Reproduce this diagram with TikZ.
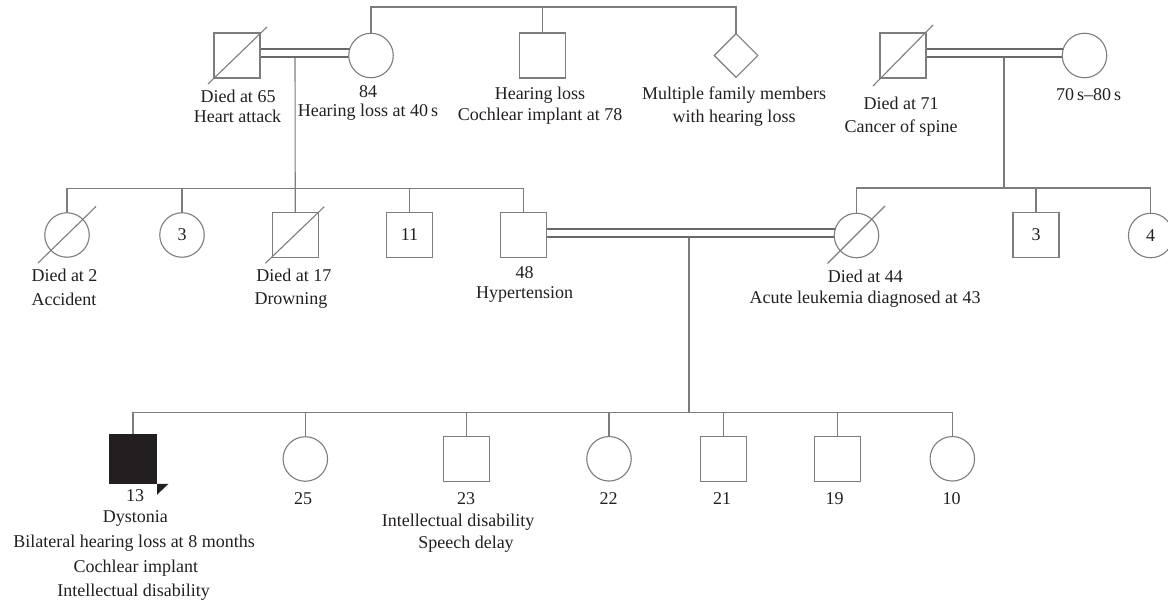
\documentclass[tikz,border=0pt]{standalone}
\usepackage{fontspec}
\setmainfont{Liberation Serif}
\usetikzlibrary{shapes.geometric}
\pgfdeclarelayer{bg}
\pgfsetlayers{bg,main}
\definecolor{lnc}{RGB}{125,125,125}
\definecolor{mrc}{RGB}{105,105,105}
\definecolor{txc}{RGB}{35,31,32}
\newcommand\pedfont{\fontsize{18}{21}\selectfont}
\begin{document}
\begin{tikzpicture}[x=1pt,y=-1pt,
 sq/.style={draw=lnc, line width=1.1pt, fill=white, rectangle, minimum width=46pt, minimum height=45pt, inner sep=0pt, font=\pedfont, text=txc},
 ci/.style={draw=lnc, line width=1.1pt, fill=white, circle, minimum size=44.5pt, inner sep=0pt, font=\pedfont, text=txc},
 dm/.style={draw=lnc, line width=1.1pt, fill=white, diamond, minimum size=44pt, inner sep=0pt},
 ln/.style={draw=lnc, line width=1.1pt},
 marr/.style={draw=mrc, line width=2.2pt, double=white, double distance=5.7pt},
 sl/.style={draw=lnc, line width=1.1pt},
 lab/.style={font=\pedfont, text=txc, inner sep=0pt, anchor=base}]
\useasboundingbox (0,0) rectangle (1168,605);
\clip (0,0) rectangle (1168,605);

% ---- generation I
\node[sq] (gf)  at (237,55.5) {};
\node[ci] (gm)  at (371,55.5) {};
\node[sq] (unc) at (542.5,55.5) {};
\node[dm] (dia) at (736,55.5) {};
\node[sq] (gf2) at (903,55.5) {};
\node[ci] (gm2) at (1084.5,55.5) {};

% ---- generation II
\node[ci] (c1) at (67,235) {};
\node[ci] (c2) at (182,235) {3};
\node[sq] (c3) at (295.3,234.7) {};
\node[sq] (c4) at (409.5,234.7) {11};
\node[sq] (fa) at (523.5,234.7) {};
\node[ci] (mo) at (856.5,235.5) {};
\node[sq] (c5) at (1036,234.7) {3};
\node[ci] (c6) at (1150.7,235.5) {4};

% ---- generation III
\node[sq, fill=txc, draw=txc, minimum width=47pt, minimum height=49pt] (p) at (133,458.7) {};
\node[ci] (b2) at (305.3,459) {};
\node[sq] (b3) at (466.3,458.8) {};
\node[ci] (b4) at (609,458.8) {};
\node[sq] (b5) at (723.2,458.8) {};
\node[sq] (b6) at (837.5,458.8) {};
\node[ci] (b7) at (952.3,458.8) {};

% ---- connectors
\coordinate (tl) at (371,7);
\coordinate (tr) at (736,7);
\coordinate (d1) at (295,53);
\coordinate (s1) at (0,188.5);
\coordinate (d2) at (1004,53);
\coordinate (s2) at (0,188);
\coordinate (d3) at (689,232.7);
\coordinate (s3) at (0,412.5);
\begin{pgfonlayer}{bg}
\draw[ln] (gm.center) -- (tl) -- (tr) -- (dia.center);
\draw[ln] (unc.center) -- (unc.center |- tl);
\draw[ln] (d1) -- (c3.center);
\draw[ln] (d2) -- (d2 |- s2);
\draw[ln] (d3) -- (d3 |- s3);
\draw[marr] ([yshift=2.5pt]gf.center) -- ([yshift=2.5pt]gm.center);
\draw[marr] ([yshift=2.5pt]gf2.center) -- ([yshift=2.5pt]gm2.center);
\draw[marr] ([yshift=2pt]fa.center) -- ([yshift=2pt]fa.center -| mo.center);
\draw[ln] (c1.center) -- (c1.center |- s1) -- (fa.center |- s1) -- (fa.center);
\draw[ln] (c2.center) -- (c2.center |- s1);
\draw[ln] (c4.center) -- (c4.center |- s1);
\draw[ln] (mo.center) -- (mo.center |- s2) -- (c6.center |- s2) -- (c6.center);
\draw[ln] (c5.center) -- (c5.center |- s2);
\draw[ln] (p.center) -- (p.center |- s3) -- (b7.center |- s3) -- (b7.center);
\foreach \n in {b2,b3,b4,b5,b6} \draw[ln] (\n.center) -- (\n.center |- s3);
\end{pgfonlayer}

% ---- deceased slashes
\draw[sl] ([shift={(-29,28.5)}]gf.center) -- ([shift={(30,-28.5)}]gf.center);
\draw[sl] ([shift={(-30,30.5)}]gf2.center) -- ([shift={(30,-30.5)}]gf2.center);
\draw[sl] ([shift={(-29,28)}]c1.center) -- ([shift={(29,-28.5)}]c1.center);
\draw[sl] ([shift={(-30,28.6)}]c3.center) -- ([shift={(29,-28)}]c3.center);
\draw[sl] ([shift={(-29,28)}]mo.center) -- ([shift={(28.5,-29.5)}]mo.center);

% ---- proband marker
\fill[txc] (p.south east) -- ++(11.5,0) -- ++(-11.5,11) -- cycle;

% ---- labels
\node[lab] (t1) at (238,102) {Died at 65};
\node[lab] (t2) at (237.5,122.5) {Heart attack};
\node[lab] (t3) at (368,97) {84};
\node[lab] (t4) at (368,116) {Hearing loss at 40\,s};
\node[lab] (t5) at (540,99) {Hearing loss};
\node[lab] (t6) at (540,120) {Cochlear implant at 78};
\node[lab] (t7) at (734,99) {Multiple family members};
\node[lab] (t8) at (734,122.5) {with hearing loss};
\node[lab] (t9) at (901,109) {Died at 71};
\node[lab] (t10) at (901,132.5) {Cancer of spine};
\node[lab] (t11) at (1088.7,100) {70\,s–80\,s};

\node[lab] (m1) at (64.5,281) {Died at 2};
\node[lab] (m2) at (64,305) {Accident};
\node[lab] (m3) at (293.8,281) {Died at 17};
\node[lab] (m4) at (291,304.5) {Drowning};
\node[lab] (m5) at (524.7,278.7) {48};
\node[lab] (m6) at (524.7,298.3) {Hypertension};
\node[lab] (m7) at (865.3,282.7) {Died at 44};
\node[lab] (m8) at (865,303.3) {Acute leukemia diagnosed at 43};

\node[lab] (u1) at (135,501.7) {13};
\node[lab] (u2) at (135.3,522.7) {Dystonia};
\node[lab] (u3) at (134,547.7) {Bilateral hearing loss at 8 months};
\node[lab] (u4) at (135.8,572.7) {Cochlear implant};
\node[lab] (u5) at (133.7,596.7) {Intellectual disability};
\node[lab] (u6) at (303,504.3) {25};
\node[lab] (u7) at (466,504.3) {23};
\node[lab] (u8) at (458,526) {Intellectual disability};
\node[lab] (u9) at (466,548.3) {Speech delay};
\node[lab] (u10) at (608.7,504.3) {22};
\node[lab] (u11) at (722,504.3) {21};
\node[lab] (u12) at (834.7,504.3) {19};
\node[lab] (u13) at (951.7,504.3) {10};
\end{tikzpicture}
\end{document}
